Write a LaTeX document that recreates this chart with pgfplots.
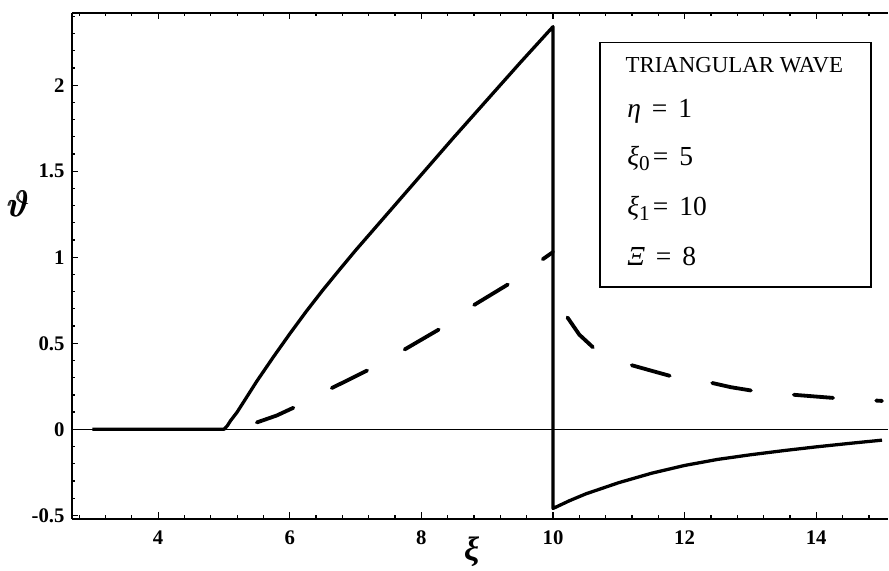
\documentclass[border=0pt]{standalone}
\usepackage{fontspec}
\setmainfont{Liberation Serif}
\usepackage{pgfplots}
\pgfplotsset{compat=1.18}

% Temperature response to a triangular wave
\pgfplotstableread{
x      y
3.0    0
5.0    0
5.05   0.02
5.1    0.05
5.2    0.10
5.3    0.16
5.4    0.22
5.5    0.28
5.75   0.42
6.0    0.555
6.25   0.685
6.5    0.808
6.75   0.925
7.0    1.04
7.5    1.26
8.0    1.48
8.5    1.70
9.0    1.915
9.5    2.13
10.0   2.34
10.0  -0.46
10.25 -0.415
10.5  -0.375
11.0  -0.31
11.5  -0.255
12.0  -0.21
12.5  -0.175
13.0  -0.148
13.5  -0.124
14.0  -0.102
14.5  -0.082
15.0  -0.063
}\solidcurve

% dashed response, rising part
\pgfplotstableread{
x      y
5.5    0.04
5.8    0.08
6.11   0.135
6.64   0.24
7.22   0.35
7.75   0.465
8.31   0.59
8.79   0.72
9.35   0.85
9.85   0.99
10.0   1.03
}\dashedrise

% dashed response, decay after the jump
\pgfplotstableread{
x      y
10.22  0.65
10.4   0.55
10.64  0.465
10.9   0.41
11.2   0.372
11.5   0.34
11.83  0.305
12.1   0.29
12.41  0.27
12.7   0.245
13.05  0.223
13.68  0.20
14.34  0.18
15.0   0.165
}\dasheddecay

\newcommand{\eqsp}{\hspace{0.4em}}
\newcommand{\sub}[1]{\raisebox{-0.4ex}{\fontsize{10}{10}\selectfont #1}}
% heavier theta by overprinting
\newcommand{\heavytheta}{\rlap{$\vartheta$}\kern0.4pt\rlap{$\vartheta$}\kern0.4pt$\vartheta$}

\begin{document}
\begin{tikzpicture}
\begin{axis}[
  scale only axis,
  width=385.5pt, height=239pt,
  xmin=2.69, xmax=15.09, ymin=-0.52, ymax=2.42,
  separate axis lines,
  axis x line*=box, axis y line*=left,
  axis line style={line width=0.7pt},
  tick align=inside,
  major tick length=3pt, minor tick length=1.6pt,
  every tick/.style={line width=0.6pt, black},
  xtick={4,6,8,10,12,14}, xticklabels={4,6,8,10,12,14},
  ytick={-0.5,0,0.5,1,1.5,2}, yticklabels={-0.5,0,0.5,1,1.5,2},
  minor xtick={2.8,3.2,3.6,4.4,4.8,5.2,5.6,6.4,6.8,7.2,7.6,8.4,8.8,9.2,9.6,10.4,10.8,11.2,11.6,12.4,12.8,13.2,13.6,14.4,14.8},
  minor ytick={-0.4,-0.3,-0.2,-0.1,0.1,0.2,0.3,0.4,0.6,0.7,0.8,0.9,1.1,1.2,1.3,1.4,1.6,1.7,1.8,1.9,2.1,2.2,2.3,2.4},
  ticklabel style={font=\fontsize{9.8}{10}\selectfont\bfseries},
  xticklabel style={yshift=-2pt},
  xlabel={\fontsize{16}{16}\selectfont\bfseries\itshape ξ},
  xlabel style={at={(axis description cs:0.49,0)}, anchor=center, yshift=-15.6pt},
  clip=false,
]
\coordinate (ll) at (rel axis cs:0,0);
\coordinate (ur) at (rel axis cs:1,1);
\coordinate (ylab) at (rel axis cs:0,0.622);
\coordinate (boxA) at (rel axis cs:0.647,0.458);
\coordinate (boxB) at (rel axis cs:0.979,0.941);
\coordinate (t0) at (rel axis cs:0.678,0.883);
\coordinate (t1) at (rel axis cs:0.680,0.794);
\coordinate (t2) at (rel axis cs:0.680,0.698);
\coordinate (t3) at (rel axis cs:0.680,0.599);
\coordinate (t4) at (rel axis cs:0.680,0.500);

% horizontal axis at zero
\draw[line width=0.5pt] (axis cs:2.69,0) -- (axis cs:15.09,0);

\addplot[black, line width=1.55pt, line join=round] table[x=x, y=y] {\solidcurve};
\addplot[black, line width=1.8pt, line cap=round, line join=round,
         dash pattern=on 18.6pt off 20.4pt] table[x=x, y=y] {\dashedrise};
\addplot[black, line width=1.8pt, line cap=round, line join=round,
         dash pattern=on 18.6pt off 20.4pt] table[x=x, y=y] {\dasheddecay};
\end{axis}

% vertical axis label
\node[font=\LARGE] at ([xshift=-25.5pt]ylab) {\heavytheta};

% parameter box
\draw[line width=0.7pt, fill=white] (boxA) rectangle (boxB);
\node[anchor=base west, inner sep=0pt, font=\fontsize{10.8}{11}\selectfont] at (t0) {TRIANGULAR WAVE};
\node[anchor=base west, inner sep=0pt, font=\fontsize{13}{13}\selectfont] at (t1) {{\itshape η}\eqsp=\eqsp1};
\node[anchor=base west, inner sep=0pt, font=\fontsize{13}{13}\selectfont] at (t2) {{\itshape ξ}\sub{0}\hspace{0.12em}=\eqsp5};
\node[anchor=base west, inner sep=0pt, font=\fontsize{13}{13}\selectfont] at (t3) {{\itshape ξ}\sub{1}\hspace{0.12em}=\eqsp10};
\node[anchor=base west, inner sep=0pt, font=\fontsize{13}{13}\selectfont] at (t4) {{\itshape Ξ}\eqsp=\eqsp8};

\pgfresetboundingbox
\path[use as bounding box] ([xshift=-34pt,yshift=-24.6pt]ll) rectangle ([xshift=0.5pt,yshift=6.1pt]ur);
\end{tikzpicture}
\end{document}
